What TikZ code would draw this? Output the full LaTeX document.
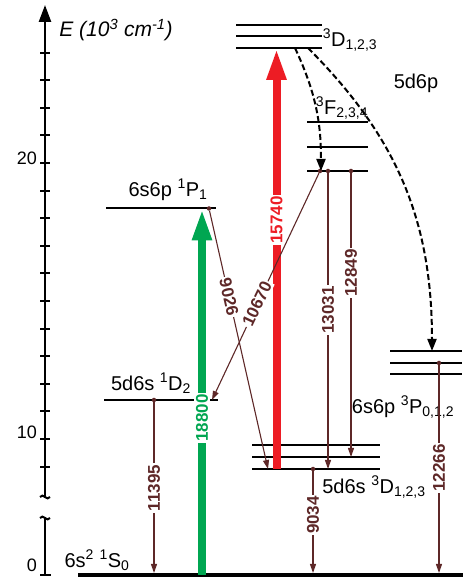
\documentclass[tikz,border=0pt]{standalone}
\usepackage{fontspec}
\setmainfont{Liberation Sans}
\usetikzlibrary{arrows.meta}
\definecolor{cgreen}{RGB}{0,166,81}
\definecolor{cred}{RGB}{237,28,36}
\definecolor{cbrown}{RGB}{94,40,40}
\tikzset{lvldiag/.style={x=1pt,y=1pt},
  axisline/.style={line width=2.5pt},
  tickline/.style={line width=2pt},
  axlab/.style={font=\fontsize{18}{20}\selectfont},
  lvl/.style={line width=2pt},
  lvllab/.style={font=\fontsize{20}{22}\selectfont,inner sep=0pt},
  pump/.style={line width=8pt,-{Triangle[width=18pt,length=32pt]}},
  cascade/.style={line width=2pt,dash pattern=on 6pt off 3pt,-{Triangle[width=9pt,length=12pt]}},
  decay/.style={cbrown,line width=1.1pt,-{Triangle[width=6pt,length=9pt]}},
  decaylab/.style={fill=white,text=cbrown,inner sep=1.5pt,font=\fontsize{17}{18}\selectfont\bfseries},
  dot/.style={circle,fill=cbrown,inner sep=0pt,minimum size=4.5pt}}

\begin{document}
\begin{tikzpicture}[lvldiag]
    \useasboundingbox (0,0) rectangle (463,578);
    % energy axis with break
    \draw[axisline,-{Triangle[width=12pt,length=17pt]}] (45,80) -- (45,573);
    \draw[axisline] (45,3) -- (45,61);
    \draw[tickline] (40,81) .. controls (43,86) and (47,76) .. (50,81);
    \draw[tickline] (40,60) .. controls (43,65) and (47,55) .. (50,60);
    \foreach \e in {9,...,24} \draw[tickline] (40,{27.6*\e-137}) -- (50,{27.6*\e-137});
    \draw[tickline] (40,3) -- (51,3);
    \node[axlab] (t20) at (27,420) {20};
    \node[axlab] (t10) at (27,146) {10};
    \node[axlab] (t0) at (32,13) {0};
    \node[axlab,font=\fontsize{21}{23}\selectfont\itshape] (etitle) at (116,548)
      {E (10\textsuperscript{3} cm\textsuperscript{-1})};

    % levels
    \draw[line width=4pt] (78,3) coordinate (gndl) -- (463,3) coordinate (gndr);
    \draw[lvl] (106,369.5) -- (216,369.5);
    \draw[lvl] (104,178) -- (218,178);
    \foreach \y in {133,121,109} \draw[lvl] (252,\y) -- (380,\y);
    \foreach \y in {553,542,530} \draw[lvl] (236,\y) -- (322,\y);
    \foreach \y in {456,431,407} \draw[lvl] (307,\y) -- (368,\y);
    \foreach \y in {227,215,204} \draw[lvl] (390,\y) -- (462,\y);

    \node[lvllab] (s0) at (97,18) {6s\textsuperscript{2} \textsuperscript{1}S\textsubscript{0}};
    \node[lvllab] (p1) at (168,388) {6s6p \textsuperscript{1}P\textsubscript{1}};
    \node[lvllab] (d2) at (151,195) {5d6s \textsuperscript{1}D\textsubscript{2}};
    \node[lvllab] (d3low) at (374,91) {5d6s \textsuperscript{3}D\textsubscript{1,2,3}};
    \node[lvllab] (p3) at (403,171) {6s6p \textsuperscript{3}P\textsubscript{0,1,2}};
    \node[lvllab] (d3up) at (350,538) {\textsuperscript{3}D\textsubscript{1,2,3}};
    \node[lvllab] (f3) at (342,470) {\textsuperscript{3}F\textsubscript{2,3,4}};
    \node[lvllab] (conf) at (416,495) {5d6p};

    % end points of the transitions
    \coordinate (gA) at (202,3);     \coordinate (gB) at (202,369.5);
    \coordinate (rA) at (276.5,109); \coordinate (rB) at (276.5,530);
    \coordinate (cA) at (295,530);   \coordinate (cB) at (321,407);
    \coordinate (cC) at (308,530);   \coordinate (cD) at (432,227);
    \node[dot] (n9026) at (209,369.5) {};   \coordinate (e9026) at (268,109);
    \node[dot] (n10670) at (320,407) {};    \coordinate (e10670) at (212,178);
    \node[dot] (n13031) at (328,407) {};    \coordinate (e13031) at (328,109);
    \node[dot] (n12849) at (351,407) {};    \coordinate (e12849) at (351,121);
    \node[dot] (n12266) at (439,215) {};    \coordinate (e12266) at (439,5);
    \node[dot] (n9034) at (313,109) {};     \coordinate (e9034) at (313,5);
    \node[dot] (n11395) at (154,178) {};    \coordinate (e11395) at (154,5);

    % excitation
    \draw[pump,cgreen] (gA) -- (gB);
    \draw[pump,cred] (rA) -- (rB);
    \draw[cascade] (cA) to[out=-65,in=90] (cB);
    \draw[cascade] (cC) to[out=-45,in=90] (cD);

    % decays
    \draw[decay] (n9026) -- (e9026);
    \draw[decay] (n10670) -- (e10670);
    \draw[decay] (n13031) -- (e13031);
    \draw[decay] (n12849) -- (e12849);
    \draw[decay] (n12266) -- (e12266);
    \draw[decay] (n9034) -- (e9034);
    \draw[decay] (n11395) -- (e11395);

    \node[decaylab,text=cgreen,rotate=90] (l18800) at (202,160) {18800};
    \node[decaylab,text=cred,rotate=90] (l15740) at (276.5,358) {15740};
    \node[decaylab,rotate=-77] (l9026) at (229,281) {9026};
    \node[decaylab,rotate=64.5] (l10670) at (257,274) {10670};
    \node[decaylab,rotate=90] (l13031) at (328,268) {13031};
    \node[decaylab,rotate=90] (l12849) at (351,305) {12849};
    \node[decaylab,rotate=90] (l12266) at (439,110) {12266};
    \node[decaylab,rotate=90] (l9034) at (313,63) {9034};
    \node[decaylab,rotate=90] (l11395) at (154,90) {11395};
\end{tikzpicture}
\end{document}
